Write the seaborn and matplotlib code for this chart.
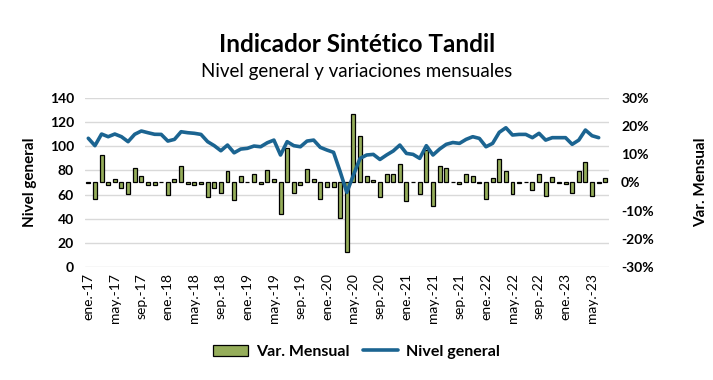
import numpy as np
import pandas as pd
import matplotlib
matplotlib.use("Agg")
import matplotlib.pyplot as plt
from matplotlib.ticker import FuncFormatter, FixedLocator
from matplotlib.patches import Patch
from matplotlib.lines import Line2D
import seaborn as sns

# ---------------- data ----------------
meses = ["ene", "feb", "mar", "abr", "may", "jun", "jul", "ago", "sep", "oct", "nov", "dic"]
anios = ["17", "18", "19", "20", "21", "22", "23"]
n_meses = 79  # ene.-17 .. jul.-23
categorias = [f"{meses[i % 12]}.-{anios[i // 12]}" for i in range(n_meses)]

nivel_general = [
    106.5, 100.4, 110.0, 107.8, 110.0, 107.8, 103.7, 109.8, 112.5, 111.1, 109.8, 109.7,
    104.2, 105.6, 111.9, 111.1, 110.6, 109.7, 103.7, 100.4, 96.2, 100.9, 94.5, 97.6,
    98.2, 100.1, 99.5, 102.8, 105.0, 92.7, 103.7, 100.4, 99.5, 104.2, 105.0, 99.0,
    96.8, 94.9, 78.9, 61.8, 76.2, 89.9, 92.7, 93.2, 89.0, 92.7, 96.0, 100.9,
    94.0, 93.2, 89.9, 100.4, 92.7, 97.6, 101.5, 103.0, 102.3, 105.6, 107.8, 106.4,
    99.5, 102.3, 111.4, 115.2, 109.2, 109.7, 109.7, 107.0, 110.6, 105.0, 107.0, 107.0,
    107.0, 101.5, 105.0, 113.3, 108.6, 107.0,
]

var_mensual = [
    -0.3, -5.7, 9.9, -0.9, 1.1, -1.8, -3.9, 5.3, 2.2, -0.9, -0.9, 0.3,
    -4.4, 1.1, 5.8, -0.6, -0.9, -0.5, -5.2, -2.1, -3.8, 4.0, -6.3, 2.3,
    0.2, 2.9, -0.5, 4.3, 1.1, -11.1, 12.1, -3.8, -0.9, 4.6, 1.1, -6.0,
    -1.5, -1.7, -12.7, -24.7, 24.1, 16.3, 2.3, 0.8, -5.0, 3.1, 2.9, 6.4,
    -6.4, 0.2, -4.2, 11.5, -8.4, 5.8, 5.0, 0.2, -0.5, 2.9, 2.2, -0.3,
    -6.0, 1.5, 8.2, 4.0, -4.2, -0.3, 0.2, -2.7, 3.1, -4.8, 1.8, -0.2,
    -0.6, -3.8, 4.0, 7.1, -4.8, -0.2, 1.5,
]

left_ticks = [0, 20, 40, 60, 80, 100, 120, 140]
right_ticks = [-30, -20, -10, 0, 10, 20, 30]

df_bar = pd.DataFrame({"mes": categorias, "var": np.array(var_mensual) / 100.0})
df_line = pd.DataFrame({"pos": np.arange(len(nivel_general)), "nivel": nivel_general})

# ---------------- style ----------------
sns.set_theme(style="white")
plt.rcParams["font.family"] = ["Lato", "DejaVu Sans"]
plt.rcParams["text.color"] = "black"
plt.rcParams["axes.labelcolor"] = "black"
plt.rcParams["xtick.color"] = "black"
plt.rcParams["ytick.color"] = "black"

BAR_COLOR = "#95AD5A"
LINE_COLOR = "#1B6491"
GRID_COLOR = "#D9D9D9"

fig = plt.figure(figsize=(7.13, 3.80), dpi=100)
ax = fig.add_axes([0.1192, 0.2966, 0.7344, 0.4463])   # grid + left scale
ax_bar = ax.twinx()                                   # bars, percent scale (right)
ax_line = ax.twinx()                                  # line, left scale

# bars
sns.barplot(data=df_bar, x="mes", y="var", ax=ax_bar, color=BAR_COLOR,
            edgecolor="black", linewidth=0.9, width=0.6, saturation=1)
# line
sns.lineplot(data=df_line, x="pos", y="nivel", ax=ax_line, color=LINE_COLOR,
             linewidth=2.6, sort=False)

n = len(categorias)
for a in (ax, ax_bar, ax_line):
    a.set_xlim(-0.5, n - 0.5)
    for s in a.spines.values():
        s.set_visible(False)

# left scale
ax.set_ylim(0, 140)
ax.set_yticks(left_ticks)
ax.yaxis.grid(True, color=GRID_COLOR, linewidth=1.0)
ax.set_axisbelow(True)
ax.tick_params(axis="y", length=0, pad=8, labelsize=10)
for lab in ax.get_yticklabels():
    lab.set_fontweight("bold")
ax.set_ylabel("Nivel general", fontsize=11, fontweight="bold")
ax.yaxis.set_label_coords(-0.092, 0.5)

ax_line.set_ylim(0, 140)
ax_line.set_yticks([])
ax_line.set_ylabel("")
ax_line.set_xlabel("")

# right scale
ax_bar.set_ylim(-0.30, 0.30)
ax_bar.yaxis.set_major_locator(FixedLocator([v / 100 for v in right_ticks]))
ax_bar.yaxis.set_major_formatter(FuncFormatter(lambda v, p: f"{int(round(v * 100))}%"))
ax_bar.tick_params(axis="y", length=0, pad=9, labelsize=10)
for lab in ax_bar.get_yticklabels():
    lab.set_fontweight("bold")
ax_bar.set_ylabel("Var. Mensual", fontsize=11, fontweight="bold", rotation=90)
ax_bar.yaxis.set_label_coords(1.163, 0.5)
ax_bar.set_xlabel("")
ax_bar.grid(False)

# x ticks every 4 months
tick_pos = list(range(0, n, 4))
ax.set_xticks(tick_pos)
ax.set_xticklabels([categorias[i] for i in tick_pos], rotation=90, fontsize=10)
ax.tick_params(axis="x", length=0, pad=4)
ax_bar.tick_params(axis="x", length=0, labelbottom=False)
ax_line.tick_params(axis="x", length=0, labelbottom=False)
ax.set_xlabel("")

ax.set_zorder(0)
ax_bar.set_zorder(1)
ax_line.set_zorder(2)
ax_bar.patch.set_visible(False)
ax_line.patch.set_visible(False)

# titles
fig.text(0.5007, 0.882, "Indicador Sintético Tandil", ha="center", va="center",
         fontsize=17.5, fontweight="bold")
fig.text(0.5007, 0.813, "Nivel general y variaciones mensuales", ha="center", va="center",
         fontsize=13.5)

# legend
handles = [Patch(facecolor=BAR_COLOR, edgecolor="black", linewidth=0.9),
           Line2D([0], [0], color=LINE_COLOR, linewidth=2.6)]
fig.legend(handles, ["Var. Mensual", "Nivel general"], loc="center",
           bbox_to_anchor=(0.5, 0.074), ncol=2, frameon=False,
           prop={"weight": "bold", "size": 11.5}, handlelength=2.2,
           columnspacing=0.8, handletextpad=0.5)

fig.savefig("out.png", dpi=100)
